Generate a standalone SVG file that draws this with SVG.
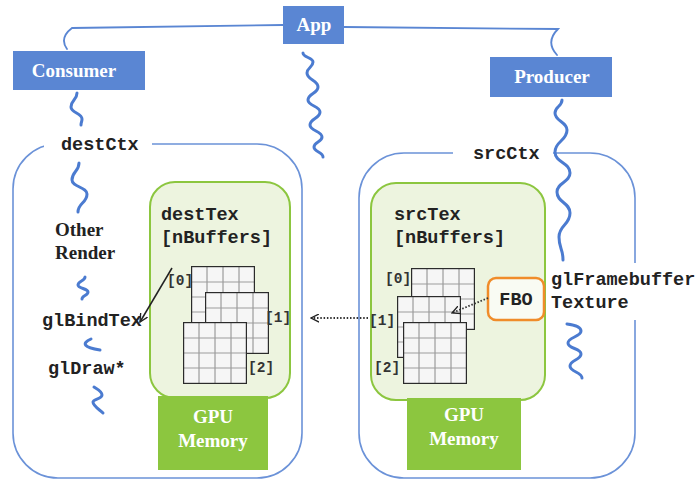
<svg xmlns="http://www.w3.org/2000/svg" width="700" height="481" viewBox="0 0 700 481">
  <style>
    .ctx { fill: none; stroke: #6b92d8; stroke-width: 1.6; }
    .mem { fill: #edf4df; stroke: #8cc63f; stroke-width: 2; }
    .gpu { fill: #8cc63f; }
    .blue { fill: #5a86d3; }
    .wave { fill: none; stroke: #4b7bd0; stroke-width: 3; stroke-linecap: round; stroke-linejoin: round; }
    .link { fill: none; stroke: #5a86d3; stroke-width: 1.8; stroke-linecap: round; }
    .bg { fill: #ffffff; }
    .title { font-family: "Liberation Serif", "Times New Roman", serif; font-weight: bold; font-size: 19px; fill: #ffffff; text-anchor: middle; }
    .label { font-family: "Liberation Serif", "Times New Roman", serif; font-weight: bold; font-size: 19px; fill: #222222; }
    .code { font-family: "Liberation Mono", "Courier New", monospace; font-weight: bold; font-size: 18.5px; fill: #222222; }
    .idx { font-family: "Liberation Mono", "Courier New", monospace; font-weight: bold; font-size: 14.5px; fill: #333333; }
    .arrow { fill: none; stroke: #222222; stroke-width: 1.5; }
    .dots { fill: none; stroke: #333333; stroke-width: 1.8; stroke-dasharray: 1.5 1.8; }
  </style>
  <defs>
    <marker id="head" viewBox="0 0 10 10" refX="9" refY="5" markerWidth="9" markerHeight="9" markerUnits="userSpaceOnUse" orient="auto">
      <path d="M0,0.5 L9,5 L0,9.5" fill="none" stroke="#222222" stroke-width="1.5"/>
    </marker>
    <symbol id="grid" viewBox="0 0 64 62">
      <rect x="0.5" y="0.5" width="63" height="61" fill="#f6f6f6"/>
      <path d="M16,0.5V61.5M32,0.5V61.5M48,0.5V61.5M0.5,16H63.5M0.5,31H63.5M0.5,46H63.5" stroke="#9c9c9c" stroke-width="1.2" fill="none"/>
      <rect x="0.6" y="0.6" width="62.8" height="60.8" fill="none" stroke="#2b2b2b" stroke-width="1.2"/>
    </symbol>
  </defs>

  <!-- rendering contexts -->
  <g id="destCtx">
    <rect class="ctx" x="13" y="144" width="289" height="334" rx="45"/>
    <rect class="bg" x="44" y="131" width="108" height="26"/>
    <text class="code" x="61" y="150">destCtx</text>
  </g>
  <g id="srcCtx">
    <rect class="ctx" x="359" y="153" width="276" height="325" rx="45"/>
    <rect class="bg" x="453" y="142" width="100" height="24"/>
    <text class="code" x="473" y="159">srcCtx</text>
    <rect class="bg" x="546" y="263" width="154" height="57"/>
    <text class="code" x="551" y="285">glFramebuffer</text>
    <text class="code" x="551" y="308">Texture</text>
  </g>

  <!-- top-level blocks -->
  <g id="app">
    <rect class="blue" x="283" y="6" width="61" height="38"/>
    <text class="title" x="314" y="31">App</text>
  </g>
  <g id="consumer">
    <rect class="blue" x="13" y="51" width="132" height="39"/>
    <text class="title" x="74" y="77">Consumer</text>
  </g>
  <g id="producer">
    <rect class="blue" x="490" y="57" width="122" height="40"/>
    <text class="title" x="552" y="83">Producer</text>
  </g>

  <!-- consumer steps -->
  <g id="consumer-steps">
    <text class="label" x="55" y="236">Other</text>
    <text class="label" x="55" y="259">Render</text>
    <text class="code" x="42" y="326">glBindTex</text>
    <text class="code" x="48" y="374">glDraw*</text>
  </g>

  <!-- texture memory -->
  <g id="destTex">
    <rect class="mem" x="150" y="182" width="140" height="216" rx="25"/>
    <text class="code" x="161" y="220">destTex</text>
    <text class="code" x="161" y="243">[nBuffers]</text>
    <use href="#grid" x="191" y="266" width="64" height="62"/>
    <use href="#grid" x="205" y="292" width="64" height="62"/>
    <use href="#grid" x="183" y="322" width="64" height="62"/>
    <text class="idx" x="167" y="285">[0]</text>
    <text class="idx" x="265" y="322">[1]</text>
    <text class="idx" x="248" y="372">[2]</text>
  </g>
  <g id="destGpu">
    <rect class="gpu" x="158" y="396" width="110" height="74"/>
    <text class="title" x="213" y="423">GPU</text>
    <text class="title" x="213" y="447">Memory</text>
  </g>

  <g id="srcTex">
    <rect class="mem" x="371" y="183" width="174" height="217" rx="25"/>
    <text class="code" x="394" y="220">srcTex</text>
    <text class="code" x="394" y="243">[nBuffers]</text>
    <use href="#grid" x="411" y="268" width="64" height="62"/>
    <use href="#grid" x="397" y="296" width="64" height="62"/>
    <use href="#grid" x="403" y="322" width="64" height="62"/>
    <text class="idx" x="385" y="283">[0]</text>
    <text class="idx" x="369" y="325">[1]</text>
    <text class="idx" x="374" y="372">[2]</text>
  </g>
  <g id="fbo">
    <rect x="488" y="278" width="56" height="42" rx="8" fill="#f9fbf3" stroke="#f08c2a" stroke-width="2.5"/>
    <text class="code" x="516" y="305" text-anchor="middle">FBO</text>
  </g>
  <g id="srcGpu">
    <rect class="gpu" x="407" y="398" width="114" height="72"/>
    <text class="title" x="464" y="421">GPU</text>
    <text class="title" x="464" y="445">Memory</text>
  </g>

  <!-- connectors -->
  <g id="connectors">
    <path class="link" d="M283,25 L72,28 Q59,38 67,49"/>
    <path class="link" d="M344,27 L558,29 Q545,42 557,55"/>

    <path class="wave" d="M303,53 C303,57.5 313,57.5 313,62 C313,67.5 307,67.5 307,73 C307,80 318,80 318,87 C318,93.5 308,93.5 308,100 C308,106 320,106 320,112 C320,118.5 310,118.5 310,125 C310,131 322,131 322,137 C322,142 314,142 314,147 C314,152 323,152 323,157"/>
    <path class="wave" d="M77,93 C77,100 71,100 71,107 C71,113 82,113 82,119 C82,122 81,122 81,125"/>
    <path class="wave" d="M562,100 C562,106.5 555,106.5 555,113 C555,121.5 567,121.5 567,130 C567,141 555,141 555,152 C555,162.5 570,162.5 570,173 C570,182.5 557,182.5 557,192 C557,202.5 570,202.5 570,213 C570,225 559,225 559,237 C559,248.5 563,248.5 563,260"/>

    <path class="wave" d="M79,163 C79,171.5 72,171.5 72,180 C72,187 87,187 87,194 C87,203 78,203 78,212"/>
    <path class="wave" d="M85,277 C85,281 78,281 78,285 C78,288.5 88,288.5 88,292 C88,295.5 82,295.5 82,299"/>
    <path class="wave" d="M91,339 Q76,346 100,350"/>
    <path class="wave" d="M94,387 C97,389 102,391 102,395 C102,399 93,399 93,402 C93,406 100,410 103,413"/>
    <path class="wave" d="M567,324 C575,325 581,327 581,331 C581,337 568,337 568,343 C568,349 581,348 581,354 C581,360 570,360 570,366 C570,372 582,372 582,378"/>

    <path class="arrow" d="M172,268 L140,322" marker-end="url(#head)"/>
    <path class="dots" d="M368,318 L311,318" marker-end="url(#head)"/>
    <path class="dots" d="M488,298 L452,313" marker-end="url(#head)"/>
  </g>
</svg>
